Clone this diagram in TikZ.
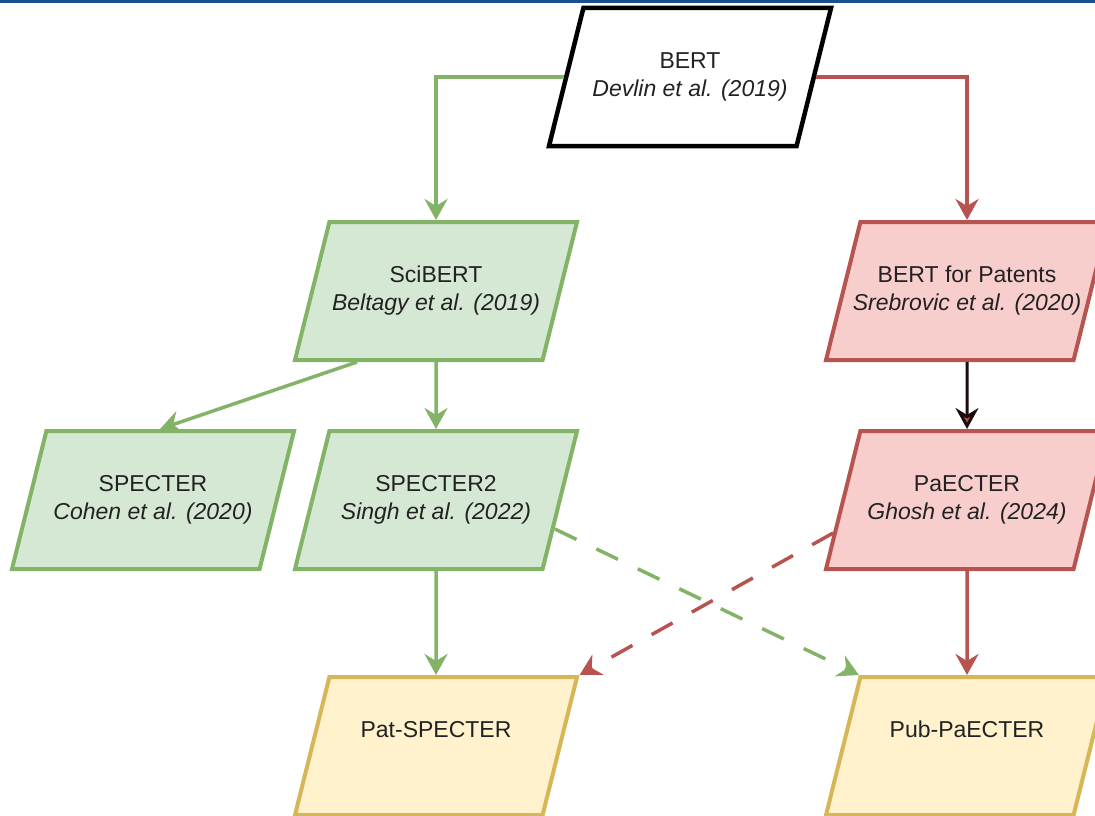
\documentclass[tikz,border=0pt]{standalone}
\usepackage{fontspec}
\setmainfont{Liberation Sans}
\usetikzlibrary{shapes.geometric,arrows.meta,calc}

\definecolor{topblue}{HTML}{1C4F8F}
\definecolor{greenfill}{HTML}{D5E8D4}
\definecolor{greendraw}{HTML}{82B366}
\definecolor{redfill}{HTML}{F8CECC}
\definecolor{reddraw}{HTML}{B85450}
\definecolor{yellowfill}{HTML}{FFF2CC}
\definecolor{yellowdraw}{HTML}{D6B656}
\definecolor{textgray}{HTML}{222222}

\newcommand{\modeltext}[2]{#1\strut\\\textit{#2}\strut}

\tikzset{
  modelbox/.style={trapezium, trapezium left angle=76, trapezium right angle=104,
    trapezium stretches body, minimum width=282pt, minimum height=138pt,
    inner xsep=-8pt, inner ysep=41pt, align=center, text=textgray, line width=4pt,
    font=\fontsize{23}{28}\selectfont},
  greenbox/.style={modelbox, draw=greendraw, fill=greenfill},
  redbox/.style={modelbox, draw=reddraw, fill=redfill},
  yellowbox/.style={modelbox, draw=yellowdraw, fill=yellowfill},
  basebox/.style={modelbox, draw=black, fill=white, line width=4.5pt},
  link/.style={line width=3.5pt, -{Stealth[length=21pt, width=23pt, inset=7pt]}},
  greenline/.style={link, draw=greendraw},
  redline/.style={link, draw=reddraw},
  darkline/.style={line width=3pt, draw=black!85!reddraw,
    -{Stealth[length=21pt, width=23pt, inset=7pt, fill=reddraw]}},
  gap/.style={dash pattern=on 24pt off 22pt}
}

\begin{document}
\begin{tikzpicture}[x=1pt, y=-1pt]
    \useasboundingbox (0,0) rectangle (1095,816);
    \fill[topblue] (0,0) rectangle (1095,3);

    % Models
    \node[basebox] (bert) at (690,77) {\modeltext{BERT}{Devlin et al. (2019)}};
    \node[greenbox] (scibert) at (436,291) {\modeltext{SciBERT}{Beltagy et al. (2019)}};
    \node[redbox] (patents) at (967,291) {\modeltext{BERT for Patents}{Srebrovic et al. (2020)}};
    \node[greenbox] (specter) at (153,500) {\modeltext{SPECTER}{Cohen et al. (2020)}};
    \node[greenbox] (specter2) at (436,500) {\modeltext{SPECTER2}{Singh et al. (2022)}};
    \node[redbox] (paecter) at (967,500) {\modeltext{PaECTER}{Ghosh et al. (2024)}};
    \node[yellowbox] (patspecter) at (436,746) {Pat-SPECTER\strut\\\strut};
    \node[yellowbox] (pubpaecter) at (967,746) {Pub-PaECTER\strut\\\strut};

    % Links
    \draw[greenline] (bert.west) -| (scibert.north);
    \draw[redline] (bert.east) -| (patents.north);
    \draw[greenline] ([xshift=-79pt]scibert.south) -- ([xshift=7pt]specter.north);
    \draw[greenline] (scibert.south) -- (specter2.north);
    \draw[darkline] (patents.south) -- (paecter.north);
    \draw[greenline] (specter2.south) -- (patspecter.north);
    \draw[redline] (paecter.south) -- (pubpaecter.north);
    \draw[greenline, gap] ($(specter2.east)+(-7,29)$) -- (pubpaecter.top left corner);
    \draw[redline, gap] ($(paecter.west)+(-8,33)$) -- (patspecter.top right corner);
\end{tikzpicture}
\end{document}
